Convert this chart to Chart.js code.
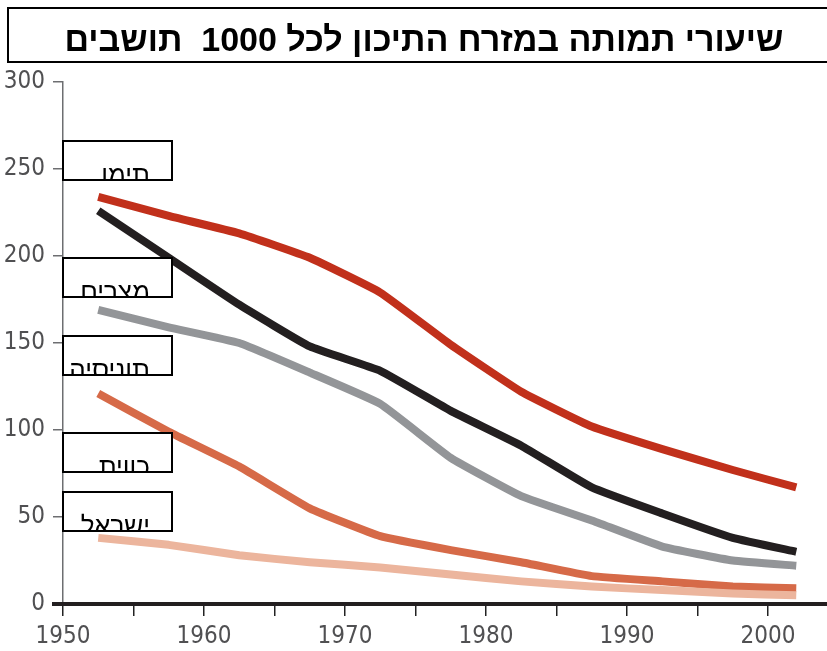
<!DOCTYPE html>
<html><head><meta charset="utf-8">
<script src="https://cdn.jsdelivr.net/npm/chart.js@4/dist/chart.umd.min.js"></script>
<style>html,body{margin:0;padding:0;background:#fff;overflow:hidden}</style>
</head><body>
<canvas id="c" width="827" height="651"></canvas>
<script>
const titleText = 'שיעורי תמותה במזרח התיכון לכל 1000  תושבים';
const countries = ['תימן', 'מצרים', 'תוניסיה', 'כווית', 'ישראל'];
const years = [1952.5, 1957.5, 1962.5, 1967.5, 1972.5, 1977.5, 1982.5, 1987.5, 1992.5, 1997.5, 2002];
const yemen   = [234, 223, 213, 199, 179, 149, 122, 102, 89, 77, 67];
const egypt   = [226, 199, 172, 148, 134, 111, 91, 67, 52, 38, 30];
const tunisia = [169, 159, 150, 133, 115, 84, 62, 48, 33, 25, 22];
const kuwait  = [121, 99, 79, 55, 39, 31, 24, 16, 13, 10, 9];
const israel  = [38, 34, 28, 24, 21, 17, 13, 10, 8, 6, 5];
const yTickValues = [0, 50, 100, 150, 200, 250, 300];
const xTickLabels = [1950, 1960, 1970, 1980, 1990, 2000];

const seriesValues = [yemen, egypt, tunisia, kuwait, israel];
const colors = ['#c1301b', '#231f20', '#939598', '#d66a48', '#ecb59d'];

// pick a condensed font that is actually installed
function pickFont(cands, fallback) {
  const c = document.createElement('canvas').getContext('2d');
  const s = '0123456789 abcdefghij';
  c.font = '40px monospace'; const m1 = c.measureText(s).width;
  c.font = '40px serif'; const m2 = c.measureText(s).width;
  for (const f of cands) {
    c.font = '40px "' + f + '", monospace'; const a = c.measureText(s).width;
    c.font = '40px "' + f + '", serif'; const b = c.measureText(s).width;
    if (a !== m1 || b !== m2) return '"' + f + '"';
  }
  return fallback;
}
const tickFamily = pickFont(['Liberation Sans Narrow', 'Arial Narrow', 'DejaVu Sans Condensed'], '"Liberation Sans"');

const datasets = seriesValues.map((vals, i) => ({
  label: countries[i],
  data: years.map((y, j) => ({x: y, y: vals[j]})),
  borderColor: colors[i],
  backgroundColor: colors[i],
  borderWidth: 8,
  pointRadius: 0,
  tension: 0.12,
  borderCapStyle: 'butt',
  borderJoinStyle: 'round',
  fill: false,
  order: i === 4 ? 0 : i + 1
}));

const labelBoxes = {
  id: 'labelBoxes',
  afterDraw(chart) {
    const ctx = chart.ctx;
    // title box
    ctx.save();
    ctx.strokeStyle = '#000';
    ctx.lineWidth = 2;
    ctx.fillStyle = '#fff';
    ctx.fillRect(8, 8, 830, 54);
    ctx.strokeRect(8, 8, 830, 54);
    ctx.fillStyle = '#000';
    ctx.font = 'bold 34px "Liberation Sans", Arial, sans-serif';
    ctx.textAlign = 'center';
    ctx.textBaseline = 'alphabetic';
    ctx.direction = 'rtl';
    ctx.fillText(titleText, 424, 51);
    ctx.restore();

    // axis stub left of the y axis at zero
    ctx.save();
    ctx.strokeStyle = '#231f20';
    ctx.lineWidth = 4;
    ctx.beginPath();
    ctx.moveTo(52, chart.scales.y.getPixelForValue(0));
    ctx.lineTo(64, chart.scales.y.getPixelForValue(0));
    ctx.stroke();
    ctx.restore();

    // country boxes
    const tops = [141, 258, 336, 433, 492];
    tops.forEach((t, i) => {
      const x = 63, w = 109, h = 39;
      ctx.save();
      ctx.fillStyle = '#fff';
      ctx.fillRect(x, t, w, h);
      ctx.beginPath();
      ctx.rect(x, t, w, h);
      ctx.clip();
      ctx.fillStyle = '#000';
      ctx.font = '26px "Liberation Sans", Arial, sans-serif';
      ctx.textAlign = 'right';
      ctx.textBaseline = 'alphabetic';
      ctx.direction = 'rtl';
      ctx.fillText(countries[i], 150, t + h + 4);
      ctx.restore();
      ctx.save();
      ctx.strokeStyle = '#000';
      ctx.lineWidth = 2;
      ctx.strokeRect(x, t, w, h);
      ctx.restore();
    });
  }
};

new Chart(document.getElementById('c'), {
  type: 'line',
  data: { datasets },
  options: {
    responsive: false,
    animation: false,
    layout: { padding: { top: 82, left: 0, right: 0, bottom: 0 } },
    plugins: { legend: { display: false }, tooltip: { enabled: false }, title: { display: false } },
    scales: {
      x: {
        type: 'linear',
        min: 1950,
        max: 2004.18,
        afterFit(scale) { scale.height = 47; },
        afterBuildTicks(scale) {
          const t = [];
          for (let v = 1950; v <= 2000; v += 5) t.push({ value: v });
          scale.ticks = t;
        },
        ticks: {
          autoSkip: false,
          maxRotation: 0,
          padding: 6,
          color: '#505052',
          font: { family: tickFamily, size: 24 },
          callback: (v) => xTickLabels.includes(v) ? String(v) : ''
        },
        grid: { drawOnChartArea: false, drawTicks: true, tickLength: 12, color: '#222', lineWidth: 1.5 },
        border: { display: true, color: '#231f20', width: 4 }
      },
      y: {
        min: 0,
        max: 300,
        afterFit(scale) { scale.width = 63; },
        afterBuildTicks(scale) { scale.ticks = yTickValues.map(v => ({ value: v })); },
        ticks: {
          padding: 8,
          color: '#505052',
          font: { family: tickFamily, size: 24 }
        },
        grid: { drawOnChartArea: false, drawTicks: true, tickLength: 10, color: '#6d6e71', lineWidth: 1.5 },
        border: { display: true, color: '#6d6e71', width: 1.5 }
      }
    }
  },
  plugins: [labelBoxes]
});
</script>
</body></html>
